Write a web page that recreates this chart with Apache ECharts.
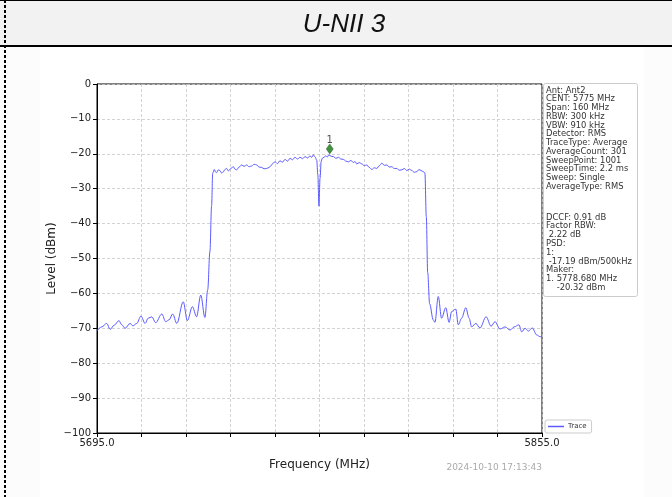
<!DOCTYPE html>
<html>
<head>
<meta charset="utf-8">
<script src="https://cdn.jsdelivr.net/npm/echarts@6/dist/echarts.min.js"></script>
<style>
html,body{margin:0;padding:0;background:#fcfcfc;}
#chart{width:672px;height:497px;}
</style>
</head>
<body>
<div id="chart"></div>
<script>
const titleText = 'U-NII 3';
const xAxisName = 'Frequency (MHz)';
const yAxisName = 'Level (dBm)';
const timestamp = '2024-10-10 17:13:43';
const freqMin = 5695, freqMax = 5855, freqStep = 16;
const levelMin = -100, levelMax = 0, levelStep = 10;
const infoLinesTop = ['Ant: Ant2','CENT: 5775 MHz','Span: 160 MHz','RBW: 300 kHz','VBW: 910 kHz','Detector: RMS','TraceType: Average','AverageCount: 301','SweepPoint: 1001','SweepTime: 2.2 ms','Sweep: Single','AverageType: RMS'];
const infoLinesBottom = ['DCCF: 0.91 dB','Factor RBW:',' 2.22 dB','PSD:','1:',' -17.19 dBm/500kHz','Maker:','1. 5778.680 MHz','    -20.32 dBm'];
const markerFreq = 5778.68, markerLevel = -20.32, markerLabel = '1';

// [frequency MHz, level dBm]
const trace = [
[5695.0,-70.7],[5696.7,-69.6],[5698.5,-68.6],[5699.7,-70.3],[5701.2,-69.1],[5702.9,-67.8],[5703.9,-69.0],[5705.1,-70.0],
[5706.9,-68.6],[5707.9,-69.3],[5709.3,-68.6],[5710.8,-66.5],[5712.3,-68.6],[5713.4,-67.1],[5714.7,-66.7],[5716.1,-68.4],
[5718.3,-65.9],[5719.7,-68.1],[5720.9,-67.6],[5722.2,-65.9],[5723.7,-68.6],[5726.0,-62.4],[5727.5,-67.8],[5729.3,-63.8],
[5730.8,-66.7],[5732.3,-60.5],[5733.8,-66.9],[5734.8,-59.0],[5735.6,-48.0],[5736.2,-35.0],[5736.6,-25.5],
[5737.2,-24.5],[5737.6,-25.2],[5738.0,-25.4],[5738.6,-24.6],[5739.2,-24.8],[5739.8,-25.5],[5740.4,-25.2],[5741.0,-24.5],
[5741.6,-24.2],[5742.2,-24.9],[5742.8,-24.5],[5743.4,-24.0],[5744.0,-23.7],[5744.6,-24.4],[5745.2,-24.6],[5746.1,-23.8],
[5747.0,-23.2],[5747.9,-23.6],[5748.8,-23.2],[5749.7,-23.7],[5750.6,-23.5],[5751.5,-23.0],[5752.4,-23.2],[5753.3,-23.8],
[5754.2,-23.9],[5755.1,-24.3],[5756.0,-24.2],[5756.9,-23.9],[5757.8,-23.2],[5758.4,-22.6],[5759.0,-22.3],[5759.9,-22.8],
[5760.8,-22.0],[5761.7,-22.4],[5762.6,-21.6],[5763.5,-22.1],[5764.4,-21.3],[5765.3,-21.7],[5766.2,-21.0],[5767.1,-21.5],
[5768.0,-21.0],[5768.9,-21.4],[5769.8,-20.8],[5770.7,-21.2],[5771.6,-20.6],[5772.2,-21.0],[5772.8,-20.3],[5773.4,-20.9],
[5774.0,-21.8],[5774.4,-26.0],[5774.8,-35.0],[5775.2,-27.0],[5775.6,-22.2],[5776.0,-21.3],[5776.6,-21.0],[5777.2,-20.6],
[5777.8,-20.9],[5778.4,-20.3],[5779.2,-20.7],[5780.0,-20.8],[5780.9,-21.3],[5781.8,-21.0],[5782.7,-21.5],[5783.6,-21.6],
[5784.5,-22.1],[5785.4,-22.3],[5786.3,-21.9],[5787.2,-22.5],[5787.8,-22.2],[5788.4,-22.9],[5789.3,-22.5],[5790.2,-22.9],
[5791.1,-23.4],[5792.0,-23.2],[5792.9,-23.9],[5793.8,-24.5],[5794.7,-24.0],[5795.6,-24.2],[5796.5,-23.4],[5797.4,-22.7],
[5798.3,-23.3],[5799.2,-23.2],[5800.1,-23.8],[5801.0,-23.7],[5801.9,-24.2],[5802.8,-24.2],[5803.7,-24.7],[5804.6,-24.6],
[5805.5,-24.2],[5806.4,-24.8],[5807.3,-24.4],[5808.2,-24.8],[5809.1,-25.3],[5810.0,-25.1],[5810.8,-24.5],[5811.5,-24.8],
[5812.3,-25.1],[5812.9,-25.5],[5813.4,-38.0],[5813.9,-54.0],[5814.6,-63.0],
[5815.9,-67.6],[5816.5,-68.3],[5817.7,-60.9],[5818.9,-67.1],[5820.4,-64.1],[5821.6,-68.3],[5822.5,-65.2],[5824.0,-64.5],
[5824.9,-69.0],[5826.1,-67.1],[5827.6,-64.1],[5828.8,-67.1],[5829.7,-69.6],[5831.2,-68.6],[5832.7,-69.9],[5834.9,-66.7],
[5836.7,-69.4],[5838.1,-68.1],[5839.9,-70.2],[5841.7,-69.6],[5843.5,-70.5],[5845.0,-69.6],[5846.7,-69.0],[5847.7,-71.0],
[5848.9,-70.0],[5850.1,-70.8],[5851.5,-69.9],[5853.1,-71.9],[5854.3,-72.4],[5855.0,-72.3]
];

const chart = echarts.init(document.getElementById('chart'), null, {renderer:'canvas'});
const font = 'DejaVu Sans';
const option = {
  animation:false,
  backgroundColor:'#fcfcfc',
  grid:{left:97,right:130,top:84,bottom:64,show:true,borderColor:'#000',borderWidth:1,backgroundColor:'#fff'},
  legend:{
    data:['Trace'], left:545, top:420, orient:'vertical',
    icon:'rect', itemWidth:16, itemHeight:1.5, itemGap:2,
    padding:[3,5,3,3], borderColor:'#ccc', borderWidth:1, borderRadius:2, backgroundColor:'#fff',
    textStyle:{fontFamily:font,fontSize:7,color:'#333',padding:[0,0,0,-1]}
  },
  xAxis:{
    type:'value', min:freqMin, max:freqMax, interval:freqStep,
    name:xAxisName, nameLocation:'middle', nameGap:26, nameMoveOverlap:false,
    nameTextStyle:{fontFamily:font,fontSize:12,color:'#222'},
    axisLine:{show:true,onZero:false,lineStyle:{color:'#000',width:1}},
    axisTick:{show:true,length:4,lineStyle:{color:'#000'}},
    axisLabel:{fontFamily:font,fontSize:10,color:'#222',margin:5,showMinLabel:true,showMaxLabel:true,
      formatter:v => (Math.abs(v-freqMin)<1e-6||Math.abs(v-freqMax)<1e-6) ? v.toFixed(1) : ''},
    splitLine:{show:true,lineStyle:{color:'#c8c8c8',type:[3,2],width:0.8}}
  },
  yAxis:{
    type:'value', min:levelMin, max:levelMax, interval:levelStep,
    name:yAxisName, nameLocation:'middle', nameGap:39, nameRotate:90, nameMoveOverlap:false,
    nameTextStyle:{fontFamily:font,fontSize:12,color:'#222'},
    axisLine:{show:true,onZero:false,lineStyle:{color:'#000',width:1}},
    axisTick:{show:true,length:4,lineStyle:{color:'#000'}},
    axisLabel:{fontFamily:font,fontSize:10,color:'#222',margin:6,
      formatter:v => String(v).replace('-','\u2212')},
    splitLine:{show:true,lineStyle:{color:'#c8c8c8',type:[3,2],width:0.8}}
  },
  series:[
    {name:'Trace', type:'line', data:trace, showSymbol:false, symbol:'none',
     smooth:0.35, smoothMonotone:'x',
     lineStyle:{color:'#5b5bff',width:1}, itemStyle:{color:'#5b5bff'}, z:3},
    {name:'Marker', type:'scatter', data:[[markerFreq,markerLevel]],
     symbol:'diamond', symbolSize:[7,10], symbolOffset:[0,-6],
     itemStyle:{color:'#157515',borderColor:'#0f5a0f',borderWidth:0.5},
     label:{show:true,position:'top',distance:-2,formatter:markerLabel,fontFamily:font,fontSize:10,color:'#222'}, z:5}
  ],
  graphic:[
    {type:'rect',shape:{x:0,y:0,width:672,height:46},style:{fill:'#f2f2f2'},z:-10},
    {type:'line',shape:{x1:0,y1:0.5,x2:672,y2:0.5},style:{stroke:'#000',lineWidth:1}},
    {type:'line',shape:{x1:0,y1:46,x2:672,y2:46},style:{stroke:'#000',lineWidth:2}},
    {type:'line',shape:{x1:5,y1:0,x2:5,y2:497},style:{stroke:'#000',lineWidth:2,lineDash:[3,2]}},
    {type:'rect',shape:{x:40,y:47,width:604,height:450},style:{fill:'#fff'},z:-10},
    {type:'text',x:344,y:25,style:{text:titleText,font:'italic 26px "Liberation Sans", Arial, sans-serif',fill:'#111',align:'center',verticalAlign:'middle'}},
    {type:'rect',shape:{x:543.5,y:83.5,width:94,height:213,r:2},style:{fill:'#fff',stroke:'#ccc',lineWidth:1}},
    {type:'text',x:546,y:86,style:{text:infoLinesTop.join('\n'),fontFamily:font,fontSize:8.4,lineHeight:8.75,fill:'#333',verticalAlign:'top'}},
    {type:'text',x:546,y:213,style:{text:infoLinesBottom.join('\n'),fontFamily:font,fontSize:8.4,lineHeight:8.8,fill:'#333',verticalAlign:'top'}},
    {type:'text',x:542,y:468,style:{text:timestamp,fontFamily:font,fontSize:9,fill:'#aaa',align:'right',verticalAlign:'middle'}}
  ]
};
chart.setOption(option);
</script>
</body>
</html>
